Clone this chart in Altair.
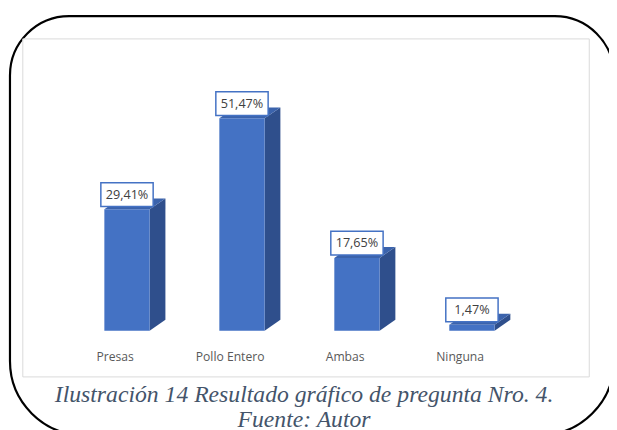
import altair as alt
import pandas as pd

# ---- data ----
categories = ["Presas", "Pollo Entero", "Ambas", "Ninguna"]
values = [29.41, 51.47, 17.65, 1.47]
value_labels = [f"{v:.2f}%".replace(".", ",") for v in values]
caption_1 = "Ilustración 14 Resultado gráfico de pregunta Nro. 4."
caption_2 = "Fuente: Autor"

# ---- 3D bar geometry (in data units) ----
HALF = 0.197   # half bar width
DX = 0.137     # depth, horizontal
DY = 2.63      # depth, vertical

FRONT = "#4472C4"
SIDE = "#2F4F8C"
TOP = "#3B63AC"

idx = list(range(len(categories)))

front_df = pd.DataFrame({
    "cat": categories,
    "x": [i - HALF for i in idx],
    "x2": [i + HALF for i in idx],
    "y": [0.0] * len(values),
    "y2": values,
})

side_rows, top_rows = [], []
for i, c, v in zip(idx, categories, values):
    side_rows += [
        {"cat": c, "x": i + HALF, "y": 0.0, "y2": v},
        {"cat": c, "x": i + HALF + DX, "y": DY, "y2": v + DY},
    ]
    top_rows += [
        {"cat": c, "x": i - HALF, "y": v, "y2": v},
        {"cat": c, "x": i - HALF + DX, "y": v, "y2": v + DY},
        {"cat": c, "x": i + HALF, "y": v, "y2": v + DY},
        {"cat": c, "x": i + HALF + DX, "y": v + DY, "y2": v + DY},
    ]
side_df = pd.DataFrame(side_rows)
top_df = pd.DataFrame(top_rows)

lab_df = pd.DataFrame({"cat": categories, "i": idx, "v": values, "lab": value_labels})

W, H = 609, 422
xs = alt.Scale(domain=[-1.035, 4.192], zero=False, nice=False)
ys = alt.Scale(domain=[-23.4, 77.55], zero=False, nice=False)

one = pd.DataFrame({"a": [0]})

outer = alt.Chart(one).mark_rect(
    fill=None, stroke="black", strokeWidth=2.2,
    cornerRadiusTopLeft=60, cornerRadiusTopRight=60,
    cornerRadiusBottomLeft=75, cornerRadiusBottomRight=75,
).encode(x=alt.value(2), x2=alt.value(614), y=alt.value(5.5), y2=alt.value(430))

inner = alt.Chart(one).mark_rect(
    fill="white", stroke="#D9D9D9", strokeWidth=1
).encode(x=alt.value(15), x2=alt.value(589), y=alt.value(28.5), y2=alt.value(371))

side = alt.Chart(side_df).mark_area(color=SIDE).encode(
    x=alt.X("x:Q", scale=xs, axis=None),
    y=alt.Y("y:Q", scale=ys, axis=None),
    y2="y2:Q",
    detail="cat:N",
)

top = alt.Chart(top_df).mark_area(color=TOP).encode(
    x=alt.X("x:Q", scale=xs, axis=None),
    y=alt.Y("y:Q", scale=ys, axis=None),
    y2="y2:Q",
    detail="cat:N",
)

front = alt.Chart(front_df).mark_rect(color=FRONT).encode(
    x=alt.X("x:Q", scale=xs, axis=None),
    x2="x2:Q",
    y=alt.Y("y:Q", scale=ys, axis=None),
    y2="y2:Q",
)

box_path = "M-1,-0.453L1,-0.453L1,0.453L-1,0.453Z"
boxes = alt.Chart(lab_df).mark_point(
    shape=box_path, size=53 * 53, fill="white", fillOpacity=1, opacity=1,
    stroke=FRONT, strokeWidth=1.5, yOffset=-15,
).encode(
    x=alt.X("i:Q", scale=xs, axis=None),
    y=alt.Y("v:Q", scale=ys, axis=None),
)

texts = alt.Chart(lab_df).mark_text(
    font="Open Sans", fontSize=12.8, color="#404040", dy=-15, baseline="middle"
).encode(
    x=alt.X("i:Q", scale=xs, axis=None),
    y=alt.Y("v:Q", scale=ys, axis=None),
    text="lab:N",
)

cat_labels = alt.Chart(lab_df).mark_text(
    font="Open Sans", fontSize=12.3, color="#595959", dx=-12, baseline="middle"
).encode(
    x=alt.X("i:Q", scale=xs, axis=None),
    y=alt.value(351),
    text="cat:N",
)

cap_df = pd.DataFrame({"t": [caption_1, caption_2], "yy": [396, 422]})
caption = alt.Chart(cap_df).mark_text(
    font="Liberation Serif", fontStyle="italic", fontSize=24, color="#44546A",
    baseline="alphabetic", align="center",
).encode(
    x=alt.value(300),
    y=alt.Y("yy:Q", scale=alt.Scale(domain=[0, H], range=[0, H], zero=False, nice=False), axis=None),
    text="t:N",
)

chart = alt.layer(
    outer, inner, side, top, front, boxes, texts, cat_labels, caption
).resolve_scale(y="independent").properties(
    width=W, height=H,
    autosize=alt.AutoSizeParams(type="none"),
    padding=0,
    background="white",
).configure_view(stroke=None)

chart.save("out.html", embed_options={"renderer": "svg", "actions": False})
